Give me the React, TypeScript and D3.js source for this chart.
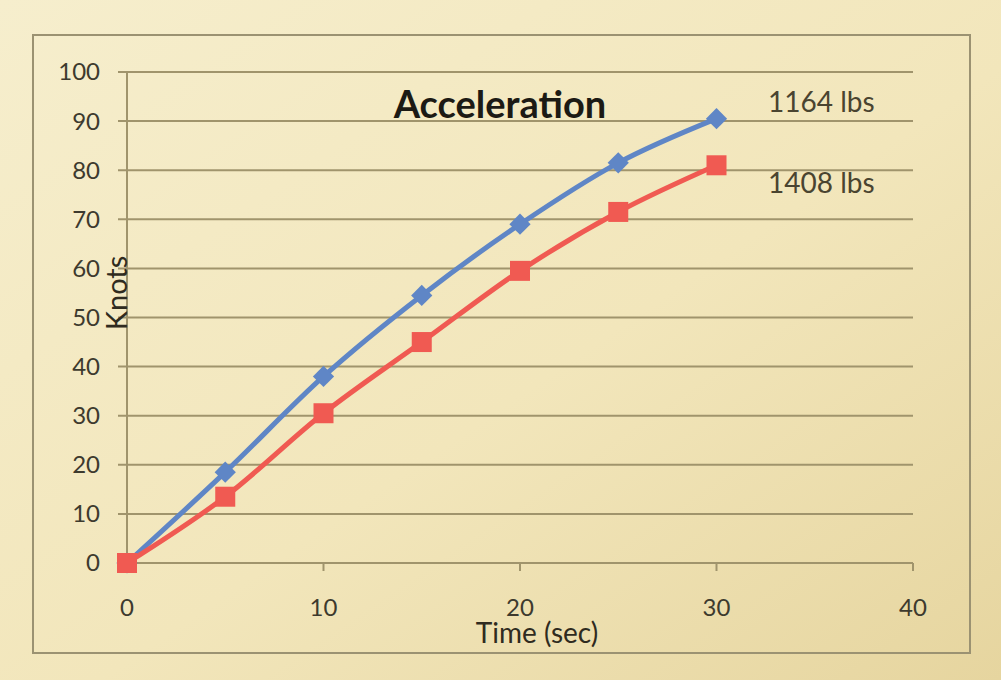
import * as d3 from "d3";

const seconds = [0, 5, 10, 15, 20, 25, 30];
const light = [0, 18.5, 38, 54.5, 69, 81.5, 90.5]; // 1164 lbs
const heavy = [0, 13.5, 30.5, 45, 59.5, 71.5, 81]; // 1408 lbs
const xTicks = [0, 10, 20, 30, 40];
const yTicks = [0, 10, 20, 30, 40, 50, 60, 70, 80, 90, 100];

const W = 1001;
const H = 680;
const FONT = "Lato, 'Open Sans', sans-serif";

export default function App() {
  const x = d3.scaleLinear().domain([0, 40]).range([127, 913]);
  const y = d3.scaleLinear().domain([0, 100]).range([563, 72]);

  const line = d3
    .line<number>()
    .x((_, i) => x(seconds[i]))
    .y((d) => y(d))
    .curve(d3.curveMonotoneX);

  const blue = "#5f86c6";
  const red = "#f05a52";

  return (
    <svg
      width={W}
      height={H}
      style={{ position: "absolute", left: 0, top: 0, display: "block" }}
    >
      <defs>
        <linearGradient id="paper" x1="0" y1="0" x2="1" y2="1">
          <stop offset="0%" stopColor="#f6eecd" />
          <stop offset="55%" stopColor="#f2e6bb" />
          <stop offset="100%" stopColor="#e6d59f" />
        </linearGradient>
      </defs>
      <rect width={W} height={H} fill="url(#paper)" />

      {/* chart frame */}
      <rect x={33} y={35} width={937} height={618} fill="none" stroke="#9b9272" strokeWidth={2} />

      {/* gridlines */}
      {yTicks.map((t) => (
        <line key={t} x1={118} x2={913} y1={y(t)} y2={y(t)} stroke="#a0946c" strokeWidth={2} />
      ))}

      {/* axes */}
      <line x1={x(0)} x2={x(0)} y1={y(100)} y2={y(0)} stroke="#a0946c" strokeWidth={2} />
      {xTicks.map((t) => (
        <line key={t} x1={x(t)} x2={x(t)} y1={y(0)} y2={y(0) + 8} stroke="#a0946c" strokeWidth={2} />
      ))}

      {/* y tick labels */}
      {yTicks.map((t) => (
        <text
          key={t}
          x={100}
          y={y(t)}
          dy="0.35em"
          textAnchor="end"
          fontFamily={FONT}
          fontSize={24}
          fill="#3d3a2e"
        >
          {t}
        </text>
      ))}

      {/* x tick labels */}
      {xTicks.map((t) => (
        <text
          key={t}
          x={x(t)}
          y={608}
          dy="0.35em"
          textAnchor="middle"
          fontFamily={FONT}
          fontSize={24}
          fill="#3d3a2e"
        >
          {t}
        </text>
      ))}

      {/* series */}
      <path d={line(light) ?? ""} fill="none" stroke={blue} strokeWidth={5} />
      <path d={line(heavy) ?? ""} fill="none" stroke={red} strokeWidth={5} />

      {light.map((v, i) => (
        <rect
          key={"b" + i}
          x={-7.5}
          y={-7.5}
          width={15}
          height={15}
          fill={blue}
          transform={`translate(${x(seconds[i])},${y(v)}) rotate(45)`}
        />
      ))}
      {heavy.map((v, i) => (
        <rect
          key={"r" + i}
          x={x(seconds[i]) - 10}
          y={y(v) - 10}
          width={20}
          height={20}
          fill={red}
        />
      ))}

      {/* series labels */}
      <text x={768} y={102} dy="0.35em" fontFamily={FONT} fontSize={28} fill="#4a4430">
        1164 lbs
      </text>
      <text x={768} y={183} dy="0.35em" fontFamily={FONT} fontSize={28} fill="#4a4430">
        1408 lbs
      </text>

      {/* title */}
      <text
        x={500}
        y={118}
        textAnchor="middle"
        fontFamily={FONT}
        fontSize={38}
        fontWeight={700}
        fill="#1c1a14"
      >
        Acceleration
      </text>

      {/* axis titles */}
      <text
        transform={`translate(127,293) rotate(-90)`}
        textAnchor="middle"
        fontFamily={FONT}
        fontSize={29}
        fill="#2f2b20"
      >
        Knots
      </text>
      <text x={537} y={643} textAnchor="middle" fontFamily={FONT} fontSize={28} fill="#2f2b20">
        Time (sec)
      </text>
    </svg>
  );
}
